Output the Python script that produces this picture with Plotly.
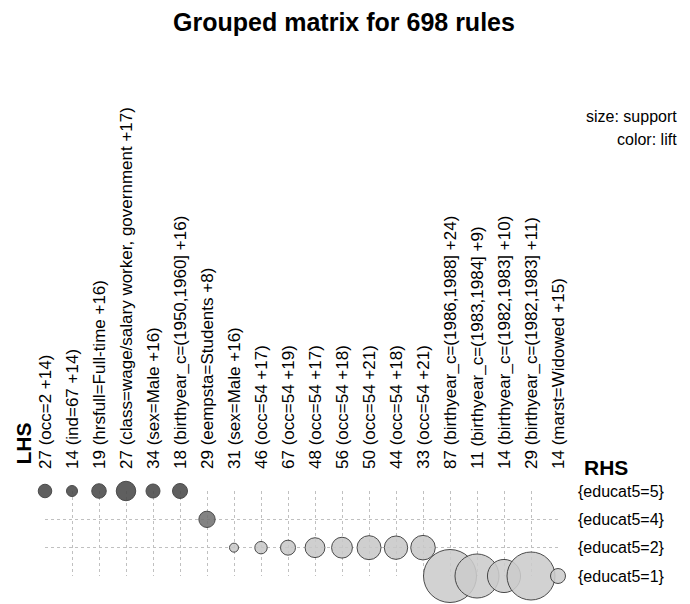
import plotly.graph_objects as go

# LHS groups (columns) and RHS items (rows)
lhs_labels = [
    "27 (occ=2 +14)",
    "14 (ind=67 +14)",
    "19 (hrsfull=Full-time +16)",
    "27 (class=wage/salary worker, government +17)",
    "34 (sex=Male +16)",
    "18 (birthyear_c=(1950,1960] +16)",
    "29 (eempsta=Students +8)",
    "31 (sex=Male +16)",
    "46 (occ=54 +17)",
    "67 (occ=54 +19)",
    "48 (occ=54 +17)",
    "56 (occ=54 +18)",
    "50 (occ=54 +21)",
    "44 (occ=54 +18)",
    "33 (occ=54 +21)",
    "87 (birthyear_c=(1986,1988] +24)",
    "11 (birthyear_c=(1983,1984] +9)",
    "14 (birthyear_c=(1982,1983] +10)",
    "29 (birthyear_c=(1982,1983] +11)",
    "14 (marst=Widowed +15)",
]
rhs_labels = ["{educat5=5}", "{educat5=4}", "{educat5=2}", "{educat5=1}"]

# which RHS row each LHS group points to
group_rhs = [0, 0, 0, 0, 0, 0, 1, 2, 2, 2, 2, 2, 2, 2, 2, 3, 3, 3, 3, 3]
support = [0.013, 0.0086, 0.015, 0.027, 0.014, 0.016, 0.019, 0.0058, 0.011, 0.016,
           0.028, 0.031, 0.041, 0.039, 0.043, 0.200, 0.138, 0.078, 0.164, 0.016]
lift = [3.6, 3.6, 3.6, 3.6, 3.6, 3.6, 2.9, 1.35, 1.35, 1.35,
        1.35, 1.35, 1.35, 1.35, 1.35, 1.3, 1.3, 1.3, 1.3, 1.3]

W, H = 690, 604
OFF = 8  # page body margin
L, R, T, B = 37, 140, 483, 36
pw, ph = W - L - R, H - T - B


def px_x(p):
    return (p - OFF - L) / pw


def px_y(p):
    return (H - B - (p - OFF)) / ph


n = len(lhs_labels)
xs = list(range(1, n + 1))
ys = [len(rhs_labels) - r for r in group_rhs]

fig = go.Figure()
fig.add_trace(go.Scatter(
    x=xs, y=ys, mode="markers", cliponaxis=False, hoverinfo="skip",
    marker=dict(
        size=support, sizemode="area", sizeref=2 * max(support) / 53 ** 2,
        color=lift, colorscale=[[0, "#cccccc"], [1, "#4a4a4a"]],
        cmin=min(lift), cmax=max(lift), opacity=0.88,
        line=dict(color="#333333", width=1),
    ),
))

font = "Liberation Sans, Arial, sans-serif"
fig.update_layout(
    width=W, height=H, margin=dict(l=L, r=R, t=T, b=B),
    plot_bgcolor="white", paper_bgcolor="white", showlegend=False,
    font=dict(family=font, size=16, color="black"),
    title=dict(text="<b>Grouped matrix for 698 rules</b>", x=(344 - OFF) / W, xref="container",
               xanchor="center", y=1 - (22 - OFF) / H, yanchor="middle", font=dict(size=25)),
    xaxis=dict(range=[1, n], side="top", tickmode="array", tickvals=xs,
               ticktext=lhs_labels, tickangle=-90, showgrid=True, tickfont=dict(size=17),
               gridcolor="#c0c0c0", griddash="dot", gridwidth=1,
               zeroline=False, showline=False, ticks="", ticklabelstandoff=21),
    yaxis=dict(range=[1, len(rhs_labels)], side="right", tickmode="array",
               tickvals=list(range(len(rhs_labels), 0, -1)), ticktext=rhs_labels,
               showgrid=True, gridcolor="#c0c0c0", griddash="dot", gridwidth=1,
               zeroline=False, showline=False, ticks="", ticklabelstandoff=19),
)

fig.add_annotation(text="<b>LHS</b>", xref="paper", yref="paper", x=px_x(22.5), y=px_y(467),
                   xanchor="center", yanchor="bottom", textangle=-90, showarrow=False,
                   font=dict(size=21))
fig.add_annotation(text="<b>RHS</b>", xref="paper", yref="paper", x=px_x(582), y=px_y(467),
                   xanchor="left", yanchor="middle", showarrow=False, font=dict(size=21))
fig.add_annotation(text="size: support", xref="paper", yref="paper", x=px_x(679), y=px_y(116),
                   xanchor="right", yanchor="middle", showarrow=False)
fig.add_annotation(text="color: lift", xref="paper", yref="paper", x=px_x(679), y=px_y(140),
                   xanchor="right", yanchor="middle", showarrow=False)

fig.write_html("out.html")
